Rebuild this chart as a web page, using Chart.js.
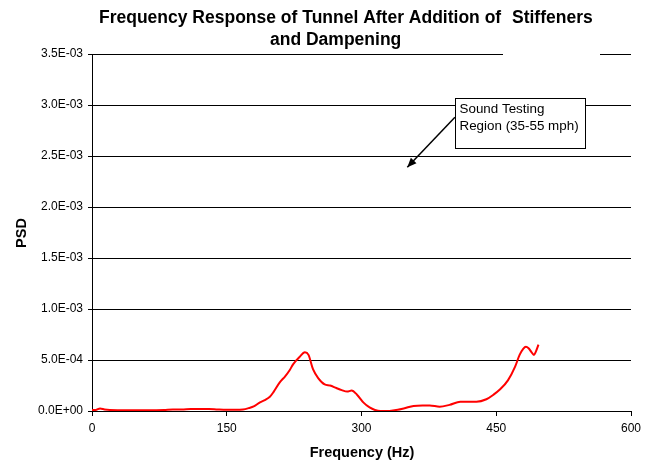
<!DOCTYPE html>
<html>
<head>
<meta charset="utf-8">
<script src="https://cdn.jsdelivr.net/npm/chart.js@4/dist/chart.umd.min.js"></script>
<style>
  html, body { margin: 0; padding: 0; background: #fff; }
  #wrap { width: 654px; height: 466px; }
</style>
</head>
<body>
<div id="wrap"><canvas id="psdChart" width="654" height="466"></canvas></div>
<script>
// Frequency (Hz)
const freqs = [0, 4, 9, 14, 20, 40, 60, 80, 90, 100, 110, 120, 130, 140, 150, 160, 168, 175, 180, 187,
    193, 198, 202, 209, 215, 220, 224, 231, 237, 241, 246, 252, 259, 265, 272, 278, 284, 289, 295, 302,
    309, 315, 321, 328, 335, 347, 358, 368, 376, 387, 398, 410, 420, 428, 439, 447, 454, 463, 471, 476,
    480, 483, 486, 489, 492, 494, 497];
// PSD values in units of 1E-04
const psdE4 = [0.1, 0.1, 0.25, 0.15, 0.1, 0.08, 0.08, 0.1, 0.15, 0.15, 0.2, 0.2, 0.2, 0.15, 0.12, 0.12, 0.15, 0.3, 0.45, 0.85,
    1.1, 1.4, 1.85, 2.8, 3.4, 4.0, 4.6, 5.3, 5.75, 5.5, 4.1, 3.2, 2.6, 2.5, 2.25, 2.05, 1.9, 2.0, 1.6, 0.85,
    0.35, 0.1, 0.0, 0.0, 0.05, 0.25, 0.5, 0.55, 0.55, 0.42, 0.6, 0.9, 0.9, 0.9, 1.15, 1.6, 2.1, 3.0, 4.35, 5.5,
    6.1, 6.3, 6.15, 5.8, 5.5, 5.8, 6.5];

const titleLines = ["Frequency Response of Tunnel After Addition of", "Stiffeners", "and Dampening"];
const xTitle = "Frequency (Hz)";
const yTitle = "PSD";
const noteLines = ["Sound Testing", "Region (35-55 mph)"];
// note box corner and arrow tip, in data units (Hz, PSD)
const notePos = { x: 404, y: 3.07e-3 };
const arrowFrom = { x: 404, y: 2.88e-3 };
const arrowTo = { x: 351, y: 2.39e-3 };

const FONT = "'Liberation Sans', Arial, sans-serif";

function sciLabel(v) {
    if (Math.abs(v) < 1e-12) return "0.0E+00";
    const s = v.toExponential(1).split("e");
    const exp = parseInt(s[1], 10);
    const sign = exp < 0 ? "-" : "+";
    return s[0] + "E" + sign + String(Math.abs(exp)).padStart(2, "0");
}

const points = freqs.map((f, i) => ({ x: f, y: psdE4[i] * 1e-4 }));

// Title, axis titles and the callout
const decorations = {
    id: "decorations",
    afterDraw(chart) {
        const ctx = chart.ctx;
        const xs = chart.scales.x, ys = chart.scales.y;
        ctx.save();

        // white patch behind "Stiffeners" breaks the top gridline
        ctx.fillStyle = "#fff";
        ctx.fillRect(503, 50, 97, 9);

        ctx.fillStyle = "#000";
        ctx.textBaseline = "middle";
        ctx.textAlign = "left";
        ctx.font = "bold 17.5px " + FONT;
        ctx.fillText(titleLines[0], 99, 18);
        ctx.fillText(titleLines[1], 512, 18);
        ctx.fillText(titleLines[2], 270, 40);

        ctx.font = "bold 14.5px " + FONT;
        ctx.textAlign = "center";
        ctx.fillText(xTitle, 362, 453);
        ctx.save();
        ctx.translate(22, 233);
        ctx.rotate(-Math.PI / 2);
        ctx.fillText(yTitle, 0, 0);
        ctx.restore();

        // arrow
        const x1 = xs.getPixelForValue(arrowFrom.x), y1 = ys.getPixelForValue(arrowFrom.y);
        const x2 = xs.getPixelForValue(arrowTo.x), y2 = ys.getPixelForValue(arrowTo.y);
        ctx.strokeStyle = "#000";
        ctx.lineWidth = 1.5;
        ctx.beginPath();
        ctx.moveTo(x1, y1);
        ctx.lineTo(x2, y2);
        ctx.stroke();
        const ang = Math.atan2(y2 - y1, x2 - x1);
        ctx.beginPath();
        ctx.moveTo(x2, y2);
        ctx.lineTo(x2 - 10 * Math.cos(ang - 0.4), y2 - 10 * Math.sin(ang - 0.4));
        ctx.lineTo(x2 - 10 * Math.cos(ang + 0.4), y2 - 10 * Math.sin(ang + 0.4));
        ctx.closePath();
        ctx.fillStyle = "#000";
        ctx.fill();

        // note box
        const bx = Math.round(xs.getPixelForValue(notePos.x)) + 0.5;
        const by = Math.round(ys.getPixelForValue(notePos.y)) + 0.5;
        ctx.fillStyle = "#fff";
        ctx.fillRect(bx, by, 130, 50);
        ctx.lineWidth = 1;
        ctx.strokeRect(bx, by, 130, 50);
        ctx.fillStyle = "#000";
        ctx.textAlign = "left";
        ctx.font = "13.4px " + FONT;
        ctx.fillText(noteLines[0], bx + 4, by + 11);
        ctx.fillText(noteLines[1], bx + 4, by + 28);

        ctx.restore();
    }
};

new Chart(document.getElementById("psdChart"), {
    type: "line",
    data: {
        datasets: [{
            data: points,
            borderColor: "#ff0000",
            borderWidth: 2,
            pointRadius: 0,
            fill: false,
            cubicInterpolationMode: "monotone"
        }]
    },
    options: {
        responsive: false,
        animation: false,
        layout: { padding: { left: 0, top: 54, right: 23, bottom: 0 } },
        plugins: { legend: { display: false }, tooltip: { enabled: false } },
        scales: {
            x: {
                type: "linear",
                min: 0, max: 600,
                ticks: { stepSize: 150, color: "#000", font: { family: FONT, size: 12 }, padding: 5 },
                grid: { display: true, drawOnChartArea: false, drawTicks: true, tickLength: 5, color: "#000" },
                border: { color: "#000", width: 1 },
                afterFit(scale) { scale.height = 55; }
            },
            y: {
                min: 0, max: 0.0035,
                ticks: { stepSize: 0.0005, color: "#000", font: { family: FONT, size: 12 }, padding: 5,
                    callback: v => sciLabel(v) },
                grid: { color: "#000", lineWidth: 1, tickLength: 4 },
                border: { color: "#000", width: 1 },
                afterFit(scale) { scale.width = 92; }
            }
        }
    },
    plugins: [decorations]
});
</script>
</body>
</html>
